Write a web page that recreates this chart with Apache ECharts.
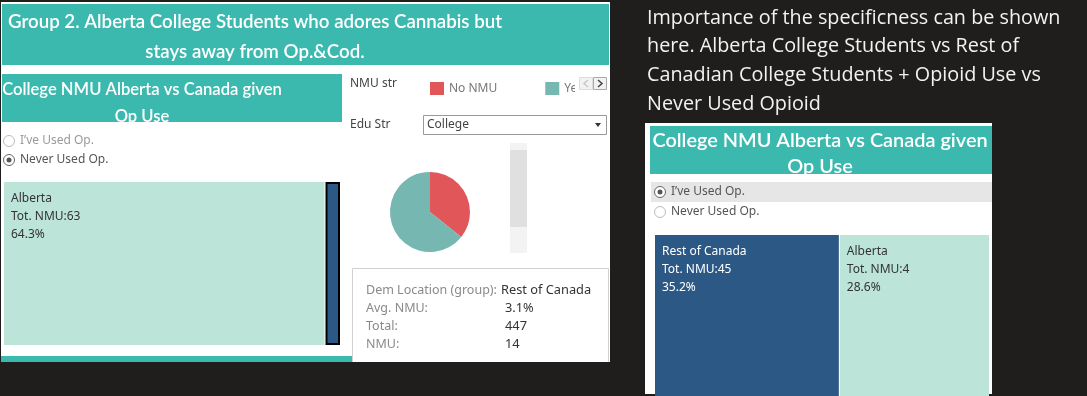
<!DOCTYPE html>
<html>
<head>
<meta charset="utf-8">
<script src="https://cdn.jsdelivr.net/npm/echarts@6/dist/echarts.min.js"></script>
<style>
html,body{margin:0;padding:0;background:#1f1e1d;}
#chart{width:1087px;height:396px;}
</style>
</head>
<body>
<div id="chart"></div>
<script>
// ---- data ----
const leftTreeNames = ['Alberta', 'Rest of Canada'];
const leftTreeValues = [64.3, 3.1];
const leftTreeTotals = [63, 14];
const rightTreeNames = ['Rest of Canada', 'Alberta'];
const rightTreeValues = [35.2, 28.6];
const rightTreeTotals = [45, 4];
const pieNames = ['No NMU', 'Yes'];
const pieValues = [35.7, 64.3];
const tipLabels = ['Dem Location (group):', 'Avg. NMU:', 'Total:', 'NMU:'];
const tipValues = ['Rest of Canada', '3.1%', '447', '14'];
const radioOptions = ["I\u2019ve Used Op.", 'Never Used Op.'];
const mainTitle = ['Group 2. Alberta College Students who adores Cannabis but', 'stays away from Op.&Cod.'];
const subTitle = ['College NMU Alberta vs Canada given', 'Op Use'];
const noteLines = ['Importance of the specificness can be shown', 'here. Alberta College Students vs Rest of', 'Canadian College Students + Opioid Use vs', 'Never Used Opioid'];

const TEAL = '#3cb9af', LIGHT = '#bce4d8', DARK = '#2c5885';
const FONT = '"Noto Sans", "Open Sans", sans-serif';
const HFONT = 'Lato, "Noto Sans", sans-serif';

function treeData(names, values, totals, hidden) {
  return names.map((n, i) => {
    const d = {name: n, value: values[i], total: totals[i]};
    const dark = n === 'Rest of Canada';
    d.itemStyle = {color: dark ? DARK : LIGHT};
    d.label = {color: dark ? '#ffffff' : '#333333'};
    if (hidden && hidden === n) {
      d.itemStyle.borderColor = '#000';
      d.itemStyle.borderWidth = 2;
      d.label.show = false;
    }
    return d;
  });
}
function treeSeries(pos, data) {
  return Object.assign({
    type: 'treemap', roam: false, nodeClick: false, silent: true,
    breadcrumb: {show: false}, squareRatio: 1.6,
    label: {show: true, position: 'insideTopLeft', padding: [8, 7], fontSize: 12, lineHeight: 18,
      fontFamily: FONT, overflow: 'none',
      formatter: p => p.data.name + '\nTot. NMU:' + p.data.total + '\n' + p.data.value.toFixed(1) + '%'},
    upperLabel: {show: false},
    levels: [{itemStyle: {borderWidth: 0, gapWidth: 1}}],
    data: data
  }, pos);
}

const g = [];
// panels
g.push({type: 'rect', shape: {x: 1, y: 2, width: 609, height: 360}, style: {fill: '#fff'}, z: 0});
g.push({type: 'rect', shape: {x: 645, y: 123, width: 347, height: 271}, style: {fill: '#fff'}, z: 0});
// main title banner
g.push({type: 'rect', shape: {x: 2, y: 4, width: 607, height: 61}, style: {fill: TEAL}, z: 1});
mainTitle.forEach((t, i) => g.push({type: 'text', z: 2, style: {text: t, x: 255, y: 22 + i * 30, textAlign: 'center', textVerticalAlign: 'middle', fill: '#fff', font: '600 18.7px ' + HFONT}}));
// left sub banner
g.push({type: 'rect', shape: {x: 2, y: 74, width: 340, height: 48}, style: {fill: TEAL}, z: 1});
subTitle.forEach((t, i) => g.push({type: 'text', z: 2, style: {text: t, x: 142, y: 90 + i * 27, textAlign: 'center', textVerticalAlign: 'middle', fill: '#fff', font: '600 16.6px ' + HFONT}}));
g.push({type: 'rect', shape: {x: 2, y: 122, width: 340, height: 10}, style: {fill: '#fff'}, z: 3});
// right sub banner
g.push({type: 'rect', shape: {x: 650, y: 126, width: 342, height: 48}, style: {fill: TEAL}, z: 1});
subTitle.forEach((t, i) => g.push({type: 'text', z: 2, style: {text: t, x: 820, y: 141 + i * 26, textAlign: 'center', textVerticalAlign: 'middle', fill: '#fff', font: '600 19.9px ' + HFONT}}));
g.push({type: 'rect', shape: {x: 650, y: 174, width: 342, height: 7}, style: {fill: '#fff'}, z: 3});
// bottom strip left
g.push({type: 'rect', shape: {x: 1, y: 356, width: 351, height: 6}, style: {fill: TEAL}, z: 1});
// radios
function radio(x, y, label, selected, txtColor) {
  g.push({type: 'circle', z: 4, shape: {cx: x, cy: y, r: 5.5}, style: {fill: '#fff', stroke: selected ? '#666' : '#bbb', lineWidth: 1}});
  if (selected) g.push({type: 'circle', z: 5, shape: {cx: x, cy: y, r: 2.5}, style: {fill: '#555'}});
  g.push({type: 'text', z: 4, style: {text: label, x: x + 11, y: y, textVerticalAlign: 'middle', fill: txtColor, font: '12px ' + FONT}});
}
radio(9, 141, radioOptions[0], false, '#9a9a9a');
radio(9, 160, radioOptions[1], true, '#555');
g.push({type: 'rect', z: 3, shape: {x: 651, y: 182, width: 341, height: 20}, style: {fill: '#e6e6e6'}});
radio(660, 192, radioOptions[0], true, '#555');
radio(660, 212, radioOptions[1], false, '#555');
// filter labels
g.push({type: 'text', z: 4, style: {text: 'NMU str', x: 350, y: 84, textVerticalAlign: 'middle', fill: '#444', font: '12px ' + FONT}});
g.push({type: 'text', z: 4, style: {text: 'Edu Str', x: 350, y: 125, textVerticalAlign: 'middle', fill: '#444', font: '12px ' + FONT}});
// dropdown
g.push({type: 'rect', z: 4, shape: {x: 423.5, y: 115.5, width: 183, height: 19}, style: {fill: '#fff', stroke: '#999', lineWidth: 1}});
g.push({type: 'text', z: 5, style: {text: 'College', x: 427, y: 125, textVerticalAlign: 'middle', fill: '#444', font: '12px ' + FONT}});
g.push({type: 'polygon', z: 5, shape: {points: [[595, 123], [601, 123], [598, 127]]}, style: {fill: '#333'}});
// legend scroll cover + buttons
g.push({type: 'rect', z: 20, shape: {x: 575, y: 74, width: 34, height: 20}, style: {fill: '#fff'}});
g.push({type: 'rect', z: 21, shape: {x: 579.5, y: 77.5, width: 13, height: 12}, style: {fill: '#f2f2f2', stroke: '#ddd'}});
g.push({type: 'rect', z: 21, shape: {x: 593.5, y: 77.5, width: 13, height: 12}, style: {fill: '#f2f2f2', stroke: '#aaa'}});
g.push({type: 'polyline', z: 22, shape: {points: [[588, 80], [584, 83.5], [588, 87]]}, style: {stroke: '#c8c8c8', lineWidth: 1.5, fill: null}});
g.push({type: 'polyline', z: 22, shape: {points: [[598, 80], [602, 83.5], [598, 87]]}, style: {stroke: '#444', lineWidth: 1.5, fill: null}});
// scrollbar
g.push({type: 'rect', z: 4, shape: {x: 510, y: 143, width: 17, height: 110}, style: {fill: '#f3f3f3'}});
g.push({type: 'rect', z: 5, shape: {x: 510, y: 150, width: 17, height: 77}, style: {fill: '#e0e0e0'}});
// tooltip (clipped by panel bottom)
g.push({type: 'rect', z: 6, shape: {x: 352, y: 268, width: 257, height: 94}, style: {fill: '#fff'}});
g.push({type: 'polyline', z: 7, shape: {points: [[352.5, 362], [352.5, 268.5], [608.5, 268.5], [608.5, 362]]}, style: {stroke: '#d0d0d0', lineWidth: 1, fill: null}});
tipLabels.forEach((t, i) => {
  g.push({type: 'text', z: 7, style: {text: t, x: 366, y: 290 + i * 18, textVerticalAlign: 'middle', fill: '#8a8a8a', font: '12.5px ' + FONT}});
  g.push({type: 'text', z: 7, style: {text: tipValues[i], x: i === 0 ? 501 : 505, y: 290 + i * 18, textVerticalAlign: 'middle', fill: '#333', font: '12.8px ' + FONT}});
});
// note text
noteLines.forEach((t, i) => g.push({type: 'text', z: 2, style: {text: t, x: 647, y: 18 + i * 28.7, textVerticalAlign: 'middle', fill: '#f2f2f2', font: '19.8px "Open Sans", sans-serif'}}));

const chart = echarts.init(document.getElementById('chart'), null, {renderer: 'canvas'});
chart.setOption({
  backgroundColor: '#1f1e1d',
  animation: false,
  legend: {
    data: pieNames, left: 425, top: 77, icon: 'rect', itemWidth: 14, itemHeight: 13, itemGap: 48,
    selectedMode: false, textStyle: {color: '#777', fontSize: 12, fontFamily: FONT}, z: 10
  },
  graphic: g,
  series: [
    treeSeries({left: 4, top: 182, width: 336, height: 163, z: 8}, treeData(leftTreeNames, leftTreeValues, leftTreeTotals, 'Rest of Canada')),
    treeSeries({left: 655, top: 235, width: 334, height: 161, z: 8}, treeData(rightTreeNames, rightTreeValues, rightTreeTotals, null)),
    {
      type: 'pie', center: [430, 212], radius: 40, startAngle: 90, clockwise: true, silent: true, z: 8,
      label: {show: false}, labelLine: {show: false},
      data: pieNames.map((n, i) => ({name: n, value: pieValues[i], itemStyle: {color: i === 0 ? '#e15759' : '#76b7b2'}}))
    }
  ]
});
</script>
</body>
</html>
